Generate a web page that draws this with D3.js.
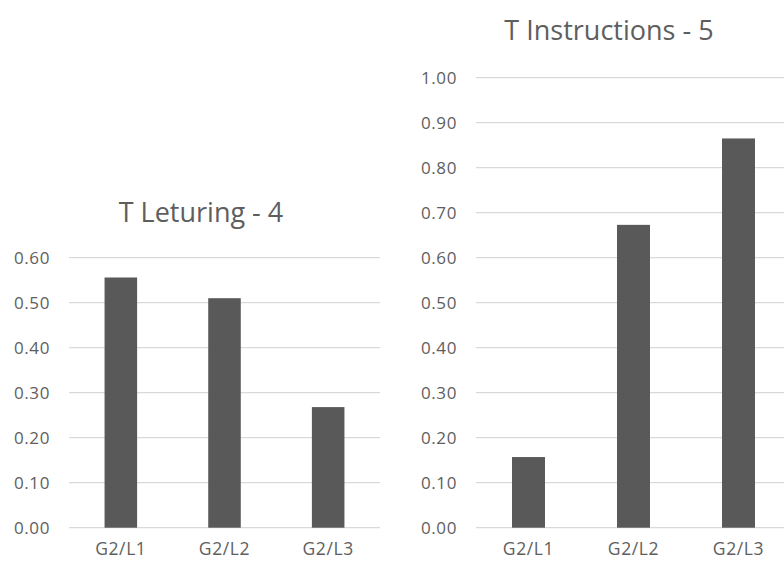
<!DOCTYPE html>
<html>
<head>
<meta charset="utf-8">
<script src="https://cdn.jsdelivr.net/npm/d3@7"></script>
<style>
  html, body { margin: 0; padding: 0; background: #ffffff; }
  svg { display: block; }
  text { font-family: "Open Sans", "DejaVu Sans", sans-serif; fill: #5e5e5e; }
</style>
</head>
<body>
<svg id="chart" width="784" height="561"></svg>
<script>
// Category labels shared by both panels
const categories = ["G2/L1", "G2/L2", "G2/L3"];

// Panel 1: T Leturing - 4
const leturingTitle = "T Leturing - 4";
const leturingValues = [0.556, 0.51, 0.268];
const leturingTicks = [0, 0.1, 0.2, 0.3, 0.4, 0.5, 0.6];

// Panel 2: T Instructions - 5
const instructionsTitle = "T Instructions - 5";
const instructionsValues = [0.157, 0.673, 0.865];
const instructionsTicks = [0, 0.1, 0.2, 0.3, 0.4, 0.5, 0.6, 0.7, 0.8, 0.9, 1.0];

const svg = d3.select("#chart");

const panels = [
  {
    title: leturingTitle, values: leturingValues, ticks: leturingTicks,
    x0: 69, x1: 380, yTop: 257.7, yBottom: 527.7, titleX: 201, titleY: 222
  },
  {
    title: instructionsTitle, values: instructionsValues, ticks: instructionsTicks,
    x0: 476, x1: 791, yTop: 77.7, yBottom: 527.7, titleX: 609, titleY: 40
  }
];

panels.forEach(p => {
  const g = svg.append("g");

  const x = d3.scaleBand()
    .domain(categories)
    .range([p.x0, p.x1])
    .paddingInner(0.686)
    .paddingOuter(0.343);

  const y = d3.scaleLinear()
    .domain([0, d3.max(p.ticks)])
    .range([p.yBottom, p.yTop]);

  // Horizontal gridlines
  g.append("g")
    .selectAll("line")
    .data(p.ticks)
    .join("line")
    .attr("x1", p.x0)
    .attr("x2", p.x1)
    .attr("y1", d => y(d))
    .attr("y2", d => y(d))
    .attr("stroke", "#d9d9d9")
    .attr("stroke-width", 1.3);

  // Y axis labels
  const yAxis = d3.axisLeft(y)
    .tickValues(p.ticks)
    .tickFormat(d3.format(".2f"))
    .tickSize(0)
    .tickPadding(19);
  const ya = g.append("g")
    .attr("transform", `translate(${p.x0},0)`)
    .call(yAxis);
  ya.select(".domain").remove();
  ya.selectAll("text")
    .attr("font-size", 17)
    .attr("fill", "#5e5e5e")
    .attr("letter-spacing", 0.6)
    .style("font-family", "'Open Sans', sans-serif");

  // Bars
  g.append("g")
    .selectAll("rect")
    .data(p.values)
    .join("rect")
    .attr("x", (d, i) => x(categories[i]))
    .attr("width", x.bandwidth())
    .attr("y", d => y(d))
    .attr("height", d => y(0) - y(d))
    .attr("fill", "#595959");

  // X axis labels
  const xAxis = d3.axisBottom(x).tickSize(0).tickPadding(15);
  const xa = g.append("g")
    .attr("transform", `translate(0,${p.yBottom})`)
    .call(xAxis);
  xa.select(".domain").remove();
  xa.selectAll("text")
    .attr("font-size", 17.5)
    .attr("fill", "#5e5e5e")
    .attr("letter-spacing", 0.6)
    .style("font-family", "'Open Sans', sans-serif");

  // Title
  g.append("text")
    .attr("x", p.titleX)
    .attr("y", p.titleY)
    .attr("text-anchor", "middle")
    .attr("font-size", 27)
    .text(p.title);
});
</script>
</body>
</html>
